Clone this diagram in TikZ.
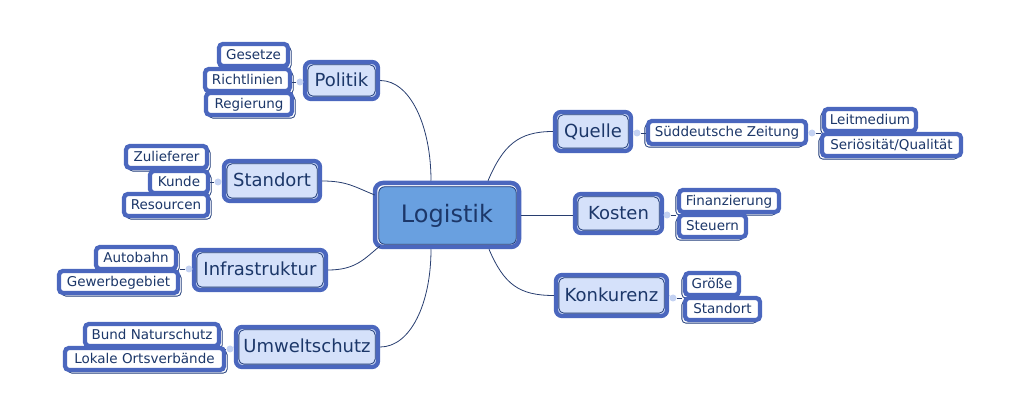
\documentclass[tikz,border=0pt]{standalone}
\usepackage{fontspec}
\setmainfont{DejaVu Sans}
\pgfdeclarelayer{background}
\pgfsetlayers{background,main}
\definecolor{thickc}{RGB}{75,103,190}
\definecolor{thind}{RGB}{30,58,120}
\definecolor{txt}{RGB}{28,55,105}
\definecolor{topicfill}{RGB}{213,225,250}
\definecolor{centerfill}{RGB}{105,160,224}
\definecolor{circf}{RGB}{196,210,242}
\definecolor{conn}{RGB}{40,62,112}
\tikzset{
  leaf/.style={draw=thickc, line width=4.3, fill=white, rounded corners=4, inner sep=0pt,
    font=\fontsize{13.5}{13.5}\selectfont, text=txt, text height=10pt, text depth=1.5pt},
  topic/.style={draw=thickc, line width=4.3, fill=topicfill, rounded corners=6, inner sep=0pt,
    font=\fontsize{18}{18}\selectfont, text=txt, text height=13.5pt, text depth=1.5pt},
  central/.style={draw=thickc, line width=4.5, fill=white, rounded corners=8, inner sep=0pt},
  thinbox/.style={draw=thind, line width=0.8, rounded corners=4},
  innerbox/.style={draw=thind, line width=0.8, rounded corners=5},
  link/.style={draw=conn, line width=0.8},
  dot/.style={circle, fill=circf, inner sep=0pt, minimum size=7},
  stub/.style={draw=circf, line width=1}
}
\newcommand\thinL[1]{\draw[thinbox] ([shift={(5,5)}]#1.north west) rectangle ([shift={(1,1)}]#1.south east);}
\newcommand\thinR[1]{\draw[thinbox] ([shift={(-1,5)}]#1.north west) rectangle ([shift={(-5,1)}]#1.south east);}
\newcommand\inner[2]{\draw[innerbox] ([shift={(#2,#2)}]#1.north west) rectangle ([shift={(-#2,-#2)}]#1.south east);}
\begin{document}
\begin{tikzpicture}[x=1pt,y=-1pt]
\useasboundingbox (0,0) rectangle (1017,419);

% central
\node[central, minimum width=144, minimum height=64] (L) at (447,215) {};
\fill[centerfill, rounded corners=6] ([shift={(6,6)}]L.north west) rectangle ([shift={(-5,-5)}]L.south east);
\draw[innerbox, rounded corners=6] ([shift={(6,6)}]L.north west) rectangle ([shift={(-5,-5)}]L.south east);
\node[font=\fontsize{24}{24}\selectfont, text=txt, text height=17.5pt, text depth=1.5pt, inner sep=0pt] (Lt) at (L.center) {Logistik};

% topics
\node[topic, minimum width=73, minimum height=37] (Pol) at (341.5,80.5) {Politik};
\node[topic, minimum width=96, minimum height=40] (Sta) at (272,181) {Standort};
\node[topic, minimum width=132, minimum height=40] (Inf) at (260,270) {Infrastruktur};
\node[topic, minimum width=142, minimum height=40] (Umw) at (307,347) {Umweltschutz};
\node[topic, minimum width=76, minimum height=39] (Que) at (593,131.5) {Quelle};
\node[topic, minimum width=87, minimum height=39] (Kos) at (618.5,213.5) {Kosten};
\node[topic, minimum width=111, minimum height=41] (Kon) at (611.5,295.5) {Konkurenz};
\foreach \n in {Pol,Sta,Inf,Umw,Que,Kos,Kon}{\inner{\n}{5}}

% leaves
\node[leaf, minimum width=69, minimum height=22] (Ges) at (253.5,55) {Gesetze};
\node[leaf, minimum width=85, minimum height=22] (Ric) at (247.5,80) {Richtlinien};
\node[leaf, minimum width=86, minimum height=22] (Reg) at (249,104) {Regierung};

\node[leaf, minimum width=81, minimum height=22] (Zul) at (166.5,157) {Zulieferer};
\node[leaf, minimum width=58, minimum height=22] (Kun) at (179,182) {Kunde};
\node[leaf, minimum width=84, minimum height=22] (Res) at (166,205) {Resourcen};

\node[leaf, minimum width=80, minimum height=22] (Aut) at (136,258) {Autobahn};
\node[leaf, minimum width=119, minimum height=22] (Gew) at (118.5,282) {Gewerbegebiet};

\node[leaf, minimum width=134, minimum height=22] (Bun) at (152,335) {Bund Naturschutz};
\node[leaf, minimum width=159, minimum height=22] (Lok) at (144.5,359) {Lokale Ortsverbände};

\node[leaf, minimum width=158, minimum height=23] (Sue) at (727,132.5) {Süddeutsche Zeitung};
\node[leaf, minimum width=92, minimum height=22] (Lei) at (870,120) {Leitmedium};
\node[leaf, minimum width=139, minimum height=22] (Ser) at (891.5,145) {Seriösität/Qualität};

\node[leaf, minimum width=100, minimum height=22] (Fin) at (729,201) {Finanzierung};
\node[leaf, minimum width=67, minimum height=22] (Ste) at (712.5,226) {Steuern};

\node[leaf, minimum width=54, minimum height=22] (Gro) at (712,284) {Größe};
\node[leaf, minimum width=75, minimum height=22] (Sto) at (722.5,309) {Standort};

% dots
\node[dot] (dPol) at (300,82) {};
\node[dot] (dSta) at (218,182) {};
\node[dot] (dInf) at (189,269) {};
\node[dot] (dUmw) at (230,349) {};
\node[dot] (dQue) at (637,133) {};
\node[dot] (dSue) at (812,133) {};
\node[dot] (dKos) at (667,215) {};
\node[dot] (dKon) at (673,298) {};

\begin{pgfonlayer}{background}
\thinL{Ges}\thinL{Ric}\thinL{Reg}
\thinL{Zul}\thinL{Kun}\thinL{Res}
\thinL{Aut}\thinL{Gew}
\thinL{Bun}\thinL{Lok}
\thinR{Sue}\thinR{Lei}\thinR{Ser}
\thinR{Fin}\thinR{Ste}
\thinR{Gro}\thinR{Sto}
\draw[stub] (dPol) -- (Pol.west);
\draw[stub] (dSta) -- (Sta.west);
\draw[stub] (dInf) -- (Inf.west);
\draw[stub] (dUmw) -- (Umw.west);
\draw[stub] (dQue) -- (Que.east);
\draw[stub] (dSue) -- (Sue.east);
\draw[stub] (dKos) -- (Kos.east);
\draw[stub] (dKon) -- (Kon.east);
\draw[link] (dPol.west) -- +(-5,0);
\draw[link] (dSta.west) -- +(-5,0);
\draw[link] (dInf.west) -- +(-5,0);
\draw[link] (dUmw.west) -- +(-5,0);
\draw[link] (dQue.east) -- +(5,0);
\draw[link] (dSue.east) -- +(5,0);
\draw[link] (dKos.east) -- +(5,0);
\draw[link] (dKon.east) -- +(5,0);
\end{pgfonlayer}

% connectors
\draw[link] (Pol.east) .. controls +(30,0) and +(0,-55) .. ([shift={(-16,0)}]L.north);
\draw[link] (Sta.east) .. controls +(25,0) and +(-20,-8) .. ([shift={(2,-20)}]L.west);
\draw[link] (Inf.east) .. controls +(28,0) and +(-15,12) .. ([shift={(7,-3)}]L.south west);
\draw[link] (Umw.east) .. controls +(30,0) and +(0,55) .. ([shift={(-16,0)}]L.south);
\draw[link] ([shift={(41,0)}]L.north) .. controls +(15,-35) and +(-35,0) .. (Que.west);
\draw[link] ([shift={(0,0)}]L.east) -- (Kos.west |- L.east);
\draw[link] ([shift={(42,0)}]L.south) .. controls +(15,35) and +(-35,0) .. (Kon.west);
\end{tikzpicture}
\end{document}
